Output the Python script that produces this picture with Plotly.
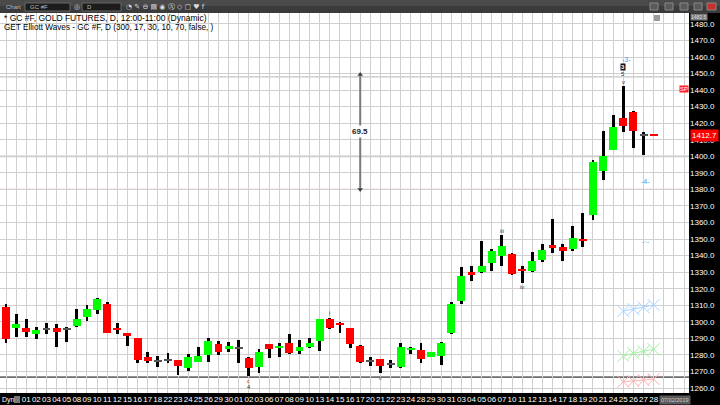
import plotly.graph_objects as go

# ---------------- data ----------------
labels = ["", "", "01", "02", "03", "04", "05", "08", "09", "10", "11", "12", "15", "16", "17", "18",
          "22", "23", "24", "25", "26", "29", "30", "01", "02", "03", "06", "07", "08", "09", "10",
          "13", "14", "15", "16", "17", "20", "21", "22", "23", "24", "28", "29", "30", "31",
          "03", "04", "05", "06", "07", "10", "11", "12", "13", "14", "17", "18", "19", "20", "21",
          "24", "25", "26", "27", "28"]
opens = [1309, 1296.5, 1296, 1292.5, 1295.5, 1296, 1295.5, 1297.5, 1303, 1307, 1311, 1296.5, 1293, 1290,
         1278.5, 1276.5, 1277, 1277, 1272, 1276, 1280, 1286.5, 1283.5, 1284, 1278, 1272.5, 1286.5, 1284,
         1287.5, 1282.5, 1285, 1288.5, 1301.5, 1299, 1296.5, 1285.5, 1276.5, 1277.5, 1274.5, 1273, 1283,
         1283, 1279, 1279.5, 1293, 1312.5, 1329.5, 1330, 1335.5, 1339.5, 1341, 1331.5, 1330.5, 1337.5,
         1346.5, 1345, 1344, 1349.5, 1364.5, 1391, 1404, 1423, 1427, 1413, 1413]
highs = [1311, 1305, 1301.5, 1297, 1299, 1298.5, 1297, 1307.5, 1310, 1314.5, 1312, 1299, 1293.5, 1290.5,
         1282, 1279.5, 1281, 1277, 1280.5, 1284.5, 1290.5, 1288.5, 1288, 1289, 1278.5, 1283.5, 1286.5,
         1287.5, 1292.5, 1289, 1290, 1301.5, 1302.5, 1300, 1296.5, 1286, 1279, 1277.5, 1277, 1287, 1284.5,
         1287, 1282, 1288, 1312, 1333, 1334, 1349, 1344, 1352.5, 1341.5, 1333.5, 1342, 1347, 1362, 1347,
         1358, 1366, 1397.5, 1415.5, 1425, 1442.5, 1427.5, 1415, 1413.5]
lows = [1287.5, 1291, 1291, 1289.5, 1292.5, 1285, 1288, 1297, 1300.5, 1304.5, 1293, 1292.5, 1285.5, 1275,
        1275, 1272.5, 1275, 1268, 1270.5, 1275.5, 1276, 1280, 1281.5, 1275, 1267, 1269, 1278, 1279, 1280.5,
        1280.5, 1284, 1282.5, 1295.5, 1293.5, 1284, 1275, 1273.5, 1269, 1272, 1272, 1280.5, 1275, 1279,
        1274, 1292.5, 1311, 1324.5, 1329.5, 1331, 1334, 1328, 1323.5, 1330, 1336, 1341.5, 1336.5, 1342.5,
        1345, 1361.5, 1386, 1404, 1415, 1405, 1401, 1412.5]
closes = [1289.5, 1298.5, 1294, 1295, 1295.5, 1294, 1295.5, 1301.5, 1308, 1313.5, 1293, 1295, 1291.5, 1277,
          1276.5, 1276.5, 1277, 1273.5, 1278.5, 1279.5, 1288.5, 1281.5, 1285.5, 1284, 1272, 1281.5, 1283.5,
          1285.5, 1281, 1285, 1287.5, 1301.5, 1296.5, 1298, 1286.5, 1276, 1276.5, 1273.5, 1274.5, 1285, 1284,
          1277.5, 1281.5, 1287, 1311, 1327.5, 1329, 1333.5, 1342.5, 1346, 1329, 1331, 1337, 1343.5, 1344.5,
          1343, 1350.5, 1349, 1396.5, 1400, 1418, 1418.5, 1415.5, 1413, 1412.7]
last_price = 1412.7
stop_price = 1440.5
y_ticks = list(range(1260, 1481, 10))

# Elliott wave labels: (bar index, price, text, colour)
wave_x = [32, 37, 49, 51, 61, 61, 24, 24]
wave_y = [1305.5, 1266.3, 1355.0, 1321.0, 1444.8, 1449.6, 1264.2, 1260.6]
wave_t = ["i", "ii", "iii", "iv", "v", "5", "c", "4"]
wave_c = ["#333333", "#555555", "#333333", "#333333", "#333333", "#333333", "#ff3030", "#333333"]
box_x, box_y, box_t = [61], [1454.0], ["3"]
blue_x = [61.3, 63.2, 63.2]
blue_y = [1458.7, 1384.5, 1348.8]
blue_t = ["-3-", "-4-", "-·-"]

# projection markers (bottom right)
proj_x = [61, 62, 63, 64]
proj_blue = [1306.5, 1307.6, 1308.8, 1310.2]
proj_green = [1279.3, 1281.0, 1282.2, 1283.4]
proj_red = [1263.8, 1264.2, 1264.8, 1265.4]

# horizontal drawing lines
hline_vals = [1266.6, 1448.0, 1380.0, 1400.0]
hline_cols = ["#6e6e6e", "#c4c4c4", "#f2b8b8", "#e2e2e2"]
hline_w = [1.6, 1.2, 1.2, 2.5]

# measurement tool
meas_x = 35
meas_from, meas_to = 1380.0, 1449.5

# ---------------- geometry ----------------
W, H = 720, 405
ML, MR, MT, MB = 0, 31, 13, 12
PW, PH = W - ML - MR, H - MT - MB


def px(x):
    return (x - ML) / PW


def py(y):
    return 1 - (y - MT) / PH


n = len(opens)
xs = list(range(n))
wick_h = [h - l for h, l in zip(highs, lows)]
body_base, body_h, body_col = [], [], []
for o, c in zip(opens, closes):
    d = abs(c - o)
    if d == 0:
        hh = 0.7
        col = "#555555"
    else:
        hh = max(d, 1.3)
        col = "#00ff00" if c > o else "#ff0000"
    mid = (o + c) / 2
    body_base.append(mid - hh / 2)
    body_h.append(hh)
    body_col.append(col)

fig = go.Figure()
fig.add_trace(go.Bar(x=xs, y=wick_h, base=lows, width=0.28, marker_color="black",
                     marker_line_width=0, showlegend=False, hoverinfo="skip"))
fig.add_trace(go.Bar(x=xs, y=body_h, base=body_base, width=0.78, marker_color=body_col,
                     marker_line_width=0, showlegend=False, hoverinfo="skip"))

for vals, col in [(proj_blue, "#a8d4ff"), (proj_green, "#a6f0a6"), (proj_red, "#ffb0b0")]:
    fig.add_trace(go.Scatter(x=proj_x, y=vals, mode="lines+markers",
                             line=dict(color=col, width=1),
                             marker=dict(symbol="x-thin-open", size=12, line=dict(color=col, width=1)),
                             showlegend=False, hoverinfo="skip"))

# measurement arrow
fig.add_trace(go.Scatter(x=[meas_x, meas_x], y=[meas_from, meas_to], mode="lines+markers",
                         line=dict(color="#7a7a7a", width=2),
                         marker=dict(symbol=["triangle-down", "triangle-up"], size=5, color="#444444"),
                         showlegend=False, hoverinfo="skip"))

shapes = []
for v, c, w in zip(hline_vals, hline_cols, hline_w):
    shapes.append(dict(type="line", xref="paper", yref="y", x0=0, x1=1, y0=v, y1=v,
                       line=dict(color=c, width=w), layer="below"))

# toolbar
shapes.append(dict(type="rect", xref="paper", yref="paper", x0=px(0), x1=px(W), y0=py(MT), y1=py(0),
                   fillcolor="#3b3b3b", line=dict(width=0), layer="above"))
shapes.append(dict(type="rect", xref="paper", yref="paper", x0=px(0), x1=px(W), y0=py(6), y1=py(0),
                   fillcolor="#4a4a4a", line=dict(width=0), layer="above"))
for x0, x1 in [(25, 70), (82, 121)]:
    shapes.append(dict(type="rect", xref="paper", yref="paper", x0=px(x0), x1=px(x1), y0=py(11), y1=py(3),
                       fillcolor="#1c1c1c", line=dict(color="#666666", width=1), layer="above"))
for x0 in [650, 665, 680, 694]:
    shapes.append(dict(type="rect", xref="paper", yref="paper", x0=px(x0), x1=px(x0 + 8), y0=py(10), y1=py(3),
                       fillcolor="#5a5a5a", line=dict(color="#888888", width=1), layer="above"))
shapes.append(dict(type="rect", xref="paper", yref="paper", x0=px(707), x1=px(716), y0=py(10), y1=py(3),
                   fillcolor="#c83030", line=dict(color="#888888", width=1), layer="above"))
# small icon top-right of plot
shapes.append(dict(type="rect", xref="paper", yref="paper", x0=px(654), x1=px(660), y0=py(21), y1=py(15),
                   fillcolor="#9a9a9a", line=dict(width=0), layer="above"))
# bottom-left Dyn icon
shapes.append(dict(type="rect", xref="paper", yref="paper", x0=px(14), x1=px(20), y0=py(403), y1=py(396),
                   fillcolor="#777777", line=dict(width=0), layer="above"))

ann = []
F = "Liberation Sans, Arial, sans-serif"
ann.append(dict(text="* GC #F, GOLD FUTURES, D, 12:00-11:00 (Dynamic)", xref="paper", yref="paper",
                x=px(2), y=py(18), xanchor="left", yanchor="middle", showarrow=False,
                font=dict(family=F, size=8.5, color="black")))
ann.append(dict(text="GET Elliott Waves - GC #F, D (300, 17, 30, 10, 70, false, )", xref="paper", yref="paper",
                x=px(2), y=py(27.5), xanchor="left", yanchor="middle", showarrow=False,
                font=dict(family=F, size=8.2, color="black")))
# toolbar texts
for t, x in [("Chart", 4), ("GC #F", 28), ("D", 85)]:
    ann.append(dict(text=t, xref="paper", yref="paper", x=px(x), y=py(7), xanchor="left", yanchor="middle",
                    showarrow=False, font=dict(family=F, size=6, color="#bbbbbb")))
ann.append(dict(text="◔ ✎ ⊖ ▤ ◉ Ⓐ ◇ ▢ ♥ f", xref="paper", yref="paper", x=px(124), y=py(7),
                xanchor="left", yanchor="middle", showarrow=False,
                font=dict(family="DejaVu Sans", size=7, color="#dddddd")))
ann.append(dict(text="◎", xref="paper", yref="paper", x=px(72), y=py(7),
                xanchor="left", yanchor="middle", showarrow=False,
                font=dict(family="DejaVu Sans", size=7, color="#dddddd")))

for x, y, t, c in zip(wave_x, wave_y, wave_t, wave_c):
    ann.append(dict(text=t, x=x, y=y, xref="x", yref="y", showarrow=False,
                    font=dict(family=F, size=6, color=c)))
for x, y, t in zip(box_x, box_y, box_t):
    ann.append(dict(text="<b>" + t + "</b>", x=x, y=y, xref="x", yref="y", showarrow=False,
                    bgcolor="#111111", borderpad=0, font=dict(family=F, size=6, color="white")))
for x, y, t in zip(blue_x, blue_y, blue_t):
    ann.append(dict(text=t, x=x, y=y, xref="x", yref="y", showarrow=False,
                    font=dict(family=F, size=7, color="#3d9df5")))

ann.append(dict(text="<b>" + f"{meas_to - meas_from:.1f}" + "</b>", x=meas_x, y=(meas_from + meas_to) / 2,
                xref="x", yref="y", showarrow=False, bgcolor="white", borderpad=1,
                font=dict(family=F, size=8, color="#222222")))

# right axis price tags
ann.append(dict(text=f"{last_price:.1f}", xref="paper", yref="y", x=1, y=last_price, xanchor="left",
                yanchor="middle", showarrow=False, bgcolor="#ff0000", borderpad=1, xshift=1,
                font=dict(family=F, size=8, color="white")))
ann.append(dict(text="SP", xref="paper", yref="y", x=1, y=stop_price, xanchor="right",
                yanchor="middle", showarrow=False, bgcolor="#ff2020", borderpad=0,
                font=dict(family=F, size=6, color="white")))
ann.append(dict(text="1482.5", xref="paper", yref="paper", x=1, y=py(17), xanchor="left",
                yanchor="middle", showarrow=False, bgcolor="#7a7a7a", borderpad=0, xshift=1,
                font=dict(family=F, size=5, color="#dddddd")))
# bottom boxes
ann.append(dict(text="Dyn", xref="paper", yref="paper", x=px(0), y=py(399.5), xanchor="left",
                yanchor="middle", showarrow=False, font=dict(family=F, size=7, color="white")))
ann.append(dict(text="07/02/2019", xref="paper", yref="paper", x=px(675), y=py(399.5), xanchor="center",
                yanchor="middle", showarrow=False, bgcolor="#5a5a5a", borderpad=1,
                font=dict(family=F, size=5.5, color="#cccccc")))

x_lo = -6 / 10.12
x_hi = x_lo + PW / 10.12
tickvals = list(range(0, 68))
ticktext = labels + [""] * (68 - n)

fig.update_layout(
    width=W, height=H, autosize=False,
    margin=dict(l=ML, r=MR, t=MT, b=MB, pad=0),
    paper_bgcolor="black", plot_bgcolor="white",
    barmode="overlay", bargap=0,
    shapes=shapes, annotations=ann, showlegend=False,
    xaxis=dict(range=[x_lo, x_hi], tickmode="array", tickvals=tickvals, ticktext=ticktext,
               tickangle=0, showgrid=True, gridcolor="#cfcfcf", gridwidth=1, zeroline=False,
               ticks="", showline=False, automargin=False, ticklabelstandoff=0,
               tickfont=dict(family=F, size=8, color="white")),
    yaxis=dict(range=[1257.0, 1486.6], side="right", tickmode="array", tickvals=y_ticks,
               ticktext=[f"{v:.1f}" for v in y_ticks], showgrid=True, gridcolor="#cfcfcf",
               gridwidth=1, zeroline=False, ticks="", showline=False, automargin=False,
               tickfont=dict(family=F, size=8, color="white")),
)

fig.write_html("out.html", config={"displayModeBar": False},
               post_script="document.body.style.margin='0';document.body.style.overflow='hidden';")
